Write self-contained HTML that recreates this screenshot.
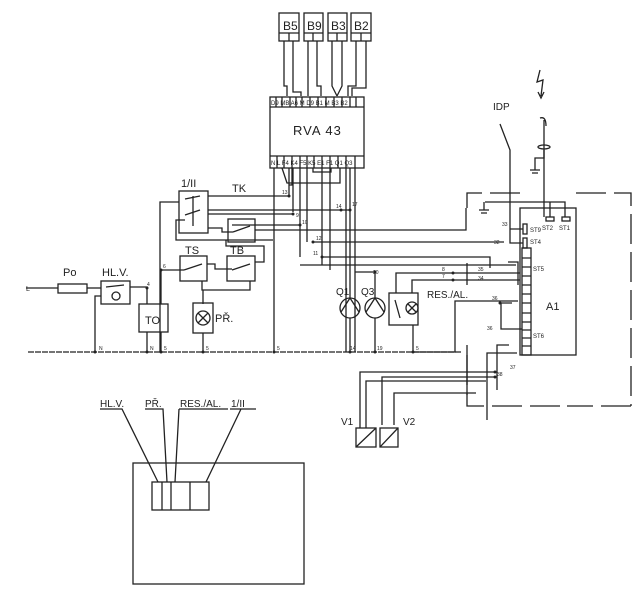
<!DOCTYPE html>
<html><head><meta charset="utf-8"><style>
html,body{margin:0;padding:0;background:#fff}
svg{display:block}
text{font-family:"Liberation Sans",sans-serif;fill:#222}
</style></head><body>
<svg width="638" height="591" viewBox="0 0 638 591" xmlns="http://www.w3.org/2000/svg">
<g stroke="#222" stroke-width="1.3" fill="none">
<rect x="279" y="13" width="20" height="28"/><line x1="279" y1="33" x2="299" y2="33"/><line x1="289" y1="33" x2="289" y2="41"/>
<rect x="304" y="13" width="19" height="28"/><line x1="304" y1="33" x2="323" y2="33"/><line x1="313" y1="33" x2="313" y2="41"/>
<rect x="328" y="13" width="19" height="28"/><line x1="328" y1="33" x2="347" y2="33"/><line x1="337" y1="33" x2="337" y2="41"/>
<rect x="351" y="13" width="20" height="28"/><line x1="351" y1="33" x2="371" y2="33"/><line x1="361" y1="33" x2="361" y2="41"/>
<path d="M284 41V86H287V96M293 41V92H301V96M308 41V96M317 41V86H321V96M332 41V86L337 96M342 41V86L337 96M356 41V86H348V96M366 41V88H352V96"/>
<rect x="270" y="97" width="94" height="71"/>
<line x1="270" y1="107" x2="364" y2="107"/><line x1="270" y1="156" x2="364" y2="156"/>
<path d="M276 97v10M282 97v10M290 97v10M296 97v10M302 97v10M310 97v10M318 97v10M326 97v10M334 97v10M342 97v10M350 97v10M356 97v10"/>
<path d="M277 156v12M284 156v12M292 156v12M300 156v12M307 156v12M314 156v12M322 156v12M330 156v12M338 156v12M346 156v12M355 156v12"/>
<path d="M274 168V352M282 168L287 183H340V168M292 168V185H289M293 168V212M300 168V257M307 168V242M313 168V172H331V168M322 168V265M330 168V270M346 168V352M355 168V352"/>
<path d="M208 196H289V168"/>
<path d="M208 210H350"/>
<path d="M208 214H293"/>
<path d="M232 225H300"/>
<path d="M255 230H466V208"/>
<path d="M313 242H504"/>
<path d="M322 257H490V268"/>
<path d="M300 265H516"/>
<rect x="179" y="191" width="29" height="42"/>
<path d="M185 199L200 196M185 215L200 210M193 196V226" />
<path d="M179 202H160V352M185 220H176V240H273"/>
<rect x="228" y="219" width="27" height="23"/>
<path d="M233 232L250 226M208 228H222V232H233"/>
<rect x="180" y="256" width="27" height="25"/>
<rect x="227" y="256" width="28" height="25"/>
<path d="M184 270L202 264M232 270L250 264M207 264H215V269H232M255 262H264V246H226V240"/>
<path d="M161 270H184M202 281V290H250V281M203 290V304"/>
<line x1="26" y1="288" x2="58" y2="288"/>
<rect x="58" y="284" width="29" height="9"/>
<line x1="87" y1="288" x2="101" y2="288"/>
<rect x="101" y="281" width="29" height="23"/>
<path d="M106 287L124 285M130 287H147V304M101 296H95V352"/>
<circle cx="116" cy="296" r="4"/>
<rect x="139" y="304" width="29" height="28"/>
<path d="M147 332V352M161 332V352M161 270V304"/>
<rect x="193" y="303" width="20" height="30"/>
<circle cx="203" cy="318" r="7"/><path d="M198 313L208 323M208 313L198 323"/>
<path d="M203 333V352"/>
<line x1="28" y1="352" x2="462" y2="352" stroke-dasharray="6,1"/>
<circle cx="350" cy="308" r="10"/><path d="M341 312L350 298L359 312"/>
<circle cx="375" cy="308" r="10"/><path d="M366 312L375 298L384 312"/>
<path d="M350 298V168M375 298V272H355M350 318V352M375 318V352"/>
<rect x="389" y="293" width="29" height="32"/>
<circle cx="412" cy="308" r="6"/><path d="M408 304L416 312M416 304L408 312M395 300L400 318"/>
<path d="M396 293V273H520M412 293V280H520M413 325V352H455V301H518"/>
<line x1="467" y1="263" x2="467" y2="285"/>
<rect x="520" y="208" width="56" height="147"/>
<rect x="522" y="248" width="9" height="107"/>
<path d="M522 258h9M522 267h9M522 276h9M522 285h9M522 294h9M522 303h9M522 313h9M522 322h9M522 330h9M522 338h9M522 346h9"/>
<rect x="523" y="224" width="4" height="10"/><rect x="523" y="238" width="4" height="10"/>
<rect x="546" y="217" width="8" height="4"/><rect x="562" y="217" width="8" height="4"/>
<path d="M467 208V193H520M576 193H631V406M631 406H567M560 406H467V350" stroke-dasharray="30,8"/>
<path d="M500 124L510 150V202M485 202H565V217M550 202V217M510 202V229H523M510 229V243H523"/>
<path d="M484 202V210M479 210h10M481 213h6"/>
<path d="M544 120V217M540 118Q546 116 546 126"/>
<ellipse cx="544" cy="147" rx="6" ry="2"/>
<path d="M544 150V158H535V170M530 170h10M532 173h6"/>
<path d="M540 70L537 82L543 80L541 96M538 92L541 98L544 92"/>
<path d="M512 303H501V329H522M509 345H497V390M517 353H487V420M495 377H382V425M495 372H360V428M486 381H366V428M476 393H394V425"/>
<path d="M508 262H518V285"/>
<line x1="467" y1="345" x2="467" y2="395"/>
<rect x="356" y="428" width="20" height="19"/><line x1="356" y1="447" x2="376" y2="428"/>
<rect x="380" y="428" width="18" height="19"/><line x1="380" y1="447" x2="398" y2="428"/>
<rect x="133" y="463" width="171" height="121"/>
<rect x="152" y="482" width="57" height="28"/>
<path d="M162 482V510M171 482V510M190 482V510"/>
<path d="M100 409H122L158 482M145 409H163L167 482M179 409H228M179 409L175 482M230 409H256M241 409L206 482"/>
</g>
<g fill="#222">
<circle cx="289" cy="196" r="1.5"/><circle cx="293" cy="214" r="1.5"/><circle cx="300" cy="225" r="1.5"/>
<circle cx="350" cy="210" r="1.5"/><circle cx="341" cy="210" r="1.5"/><circle cx="313" cy="242" r="1.5"/><circle cx="322" cy="257" r="1.5"/>
<circle cx="161" cy="270" r="1.5"/><circle cx="147" cy="288" r="1.5"/><circle cx="95" cy="352" r="1.5"/><circle cx="147" cy="352" r="1.5"/>
<circle cx="161" cy="352" r="1.5"/><circle cx="203" cy="352" r="1.5"/><circle cx="274" cy="352" r="1.5"/><circle cx="350" cy="352" r="1.5"/>
<circle cx="375" cy="352" r="1.5"/><circle cx="413" cy="352" r="1.5"/><circle cx="375" cy="272" r="1.5"/>
<circle cx="453" cy="273" r="1.5"/><circle cx="453" cy="280" r="1.5"/><circle cx="500" cy="303" r="1.5"/>
<circle cx="495" cy="372" r="1.5"/><circle cx="495" cy="377" r="1.5"/>
</g>
<text x="283" y="30" font-size="12">B5</text><text x="307" y="30" font-size="12">B9</text>
<text x="331" y="30" font-size="12">B3</text><text x="354" y="30" font-size="12">B2</text>
<text x="293" y="135" font-size="13" letter-spacing="1">RVA 43</text>
<text x="271" y="105" font-size="6">D9 MB A6 M D9 B1 M B3 B2</text>
<text x="271" y="165" font-size="6">N L F4 K4 F5 K5 E1 F1 Q1 Q3</text>
<text x="181" y="187" font-size="11">1/II</text>
<text x="232" y="192" font-size="11">TK</text>
<text x="185" y="254" font-size="11">TS</text><text x="230" y="254" font-size="11">TB</text>
<text x="63" y="276" font-size="11">Po</text><text x="102" y="276" font-size="11">HL.V.</text>
<text x="26" y="291" font-size="7">L</text>
<text x="145" y="324" font-size="11">TO</text>
<text x="215" y="322" font-size="11">PŘ.</text>
<text x="336" y="295" font-size="10">Q1</text><text x="361" y="295" font-size="10">Q3</text>
<text x="427" y="298" font-size="10">RES./AL.</text>
<text x="546" y="310" font-size="11">A1</text>
<text x="493" y="110" font-size="10">IDP</text>
<text x="533" y="271" font-size="6">ST5</text><text x="533" y="338" font-size="6">ST6</text>
<text x="530" y="232" font-size="6">ST9</text><text x="530" y="244" font-size="6">ST4</text>
<text x="542" y="230" font-size="6">ST2</text><text x="559" y="230" font-size="6">ST1</text>
<text x="341" y="425" font-size="10">V1</text><text x="403" y="425" font-size="10">V2</text>
<text x="100" y="407" font-size="10">HL.V.</text><text x="145" y="407" font-size="10">PŘ.</text>
<text x="180" y="407" font-size="10">RES./AL.</text><text x="231" y="407" font-size="10">1/II</text>
<g font-size="5">
<text x="282" y="194">13</text><text x="336" y="208">14</text><text x="352" y="206">17</text>
<text x="296" y="217">9</text><text x="302" y="224">10</text><text x="316" y="240">12</text><text x="313" y="255">11</text>
<text x="99" y="350">N</text><text x="150" y="350">N</text><text x="164" y="350">5</text><text x="206" y="350">5</text><text x="277" y="350">5</text>
<text x="350" y="350">14</text><text x="377" y="350">19</text><text x="416" y="350">5</text><text x="373" y="274">20</text>
<text x="442" y="271">8</text><text x="442" y="278">7</text><text x="478" y="271">35</text><text x="478" y="280">34</text>
<text x="502" y="226">33</text><text x="494" y="244">32</text><text x="492" y="300">36</text><text x="487" y="330">36</text>
<text x="510" y="369">37</text><text x="497" y="376">38</text><text x="163" y="268">6</text><text x="147" y="286">4</text>
</g>
</svg>
</body></html>
